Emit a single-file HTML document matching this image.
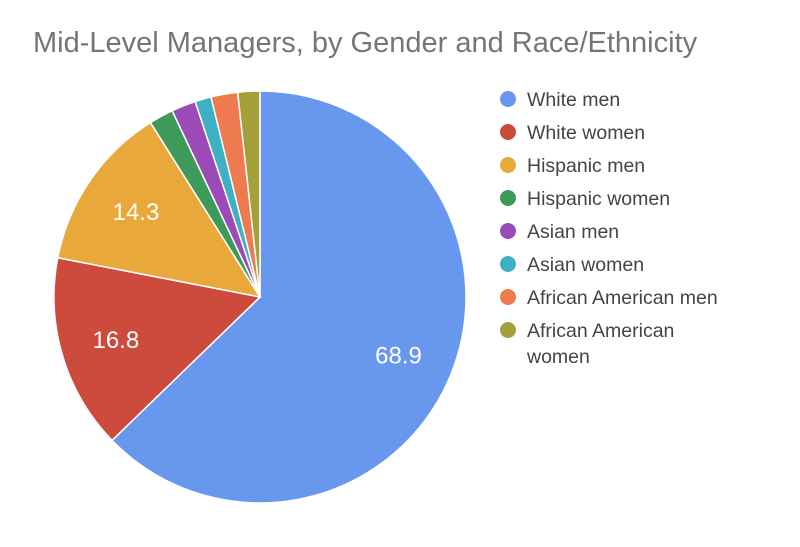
<!DOCTYPE html>
<html><head><meta charset="utf-8"><style>
body{margin:0;background:#fff;}
svg{display:block;font-family:"Liberation Sans",sans-serif;}
</style></head><body>
<svg id="c" width="800" height="547">
<text x="33" y="52" font-size="29" fill="#757575">Mid-Level Managers, by Gender and Race/Ethnicity</text>
<g id="slices"></g>
<g id="legend"></g>
</svg>
<script>
const categories=["White men","White women","Hispanic men","Hispanic women","Asian men","Asian women","African American men","African American women"];
const values=[68.9,16.8,14.3,2.1,2.1,1.4,2.3,1.9];
const labels=["68.9","16.8","14.3","","","","",""];
const colors=["#6897ee","#cc4b3c","#e8a93a","#3e9a5a","#9b4ab8","#3eb0c4","#ee7b50","#a6a03a"];
const NS="http://www.w3.org/2000/svg";
const cx=260,cy=297,r=206;
const total=values.reduce((a,b)=>a+b,0);
function pt(a,rr){return [cx+rr*Math.sin(a),cy-rr*Math.cos(a)];}
const sg=document.getElementById('slices');
let start=0;
values.forEach((v,i)=>{
  const sweep=v/total*2*Math.PI, end=start+sweep;
  const p0=pt(start,r),p1=pt(end,r);
  const p=document.createElementNS(NS,'path');
  p.setAttribute('d',`M${cx},${cy}L${p0[0]},${p0[1]}A${r},${r} 0 ${sweep>Math.PI?1:0} 1 ${p1[0]},${p1[1]}Z`);
  p.setAttribute('fill',colors[i]);p.setAttribute('stroke','#fff');p.setAttribute('stroke-width','1.5');
  
  
  sg.appendChild(p);
  if(labels[i]){
    const m=pt(start+sweep/2,r*0.73);
    const t=document.createElementNS(NS,'text');
    t.setAttribute('x',m[0]);t.setAttribute('y',m[1]+8);t.setAttribute('text-anchor','middle');
    t.setAttribute('font-size','24');t.setAttribute('fill','#fff');t.textContent=labels[i];
    
    
    sg.appendChild(t);
  }
  start=end;
});
const lg=document.getElementById('legend');
categories.forEach((c,i)=>{
  const y=99+i*33;
  const g=document.createElementNS(NS,'g');
  
  
  const ci=document.createElementNS(NS,'circle');
  ci.setAttribute('cx',508);ci.setAttribute('cy',y);ci.setAttribute('r',8);ci.setAttribute('fill',colors[i]);
  g.appendChild(ci);
  const words=c==="African American women"?["African American","women"]:[c];
  words.forEach((w,j)=>{
    const t=document.createElementNS(NS,'text');
    t.setAttribute('x',527);t.setAttribute('y',y+7+j*26);t.setAttribute('font-size','19.5');t.setAttribute('fill','#444');
    t.textContent=w;g.appendChild(t);
  });
  lg.appendChild(g);
});
</script>
</body></html>
